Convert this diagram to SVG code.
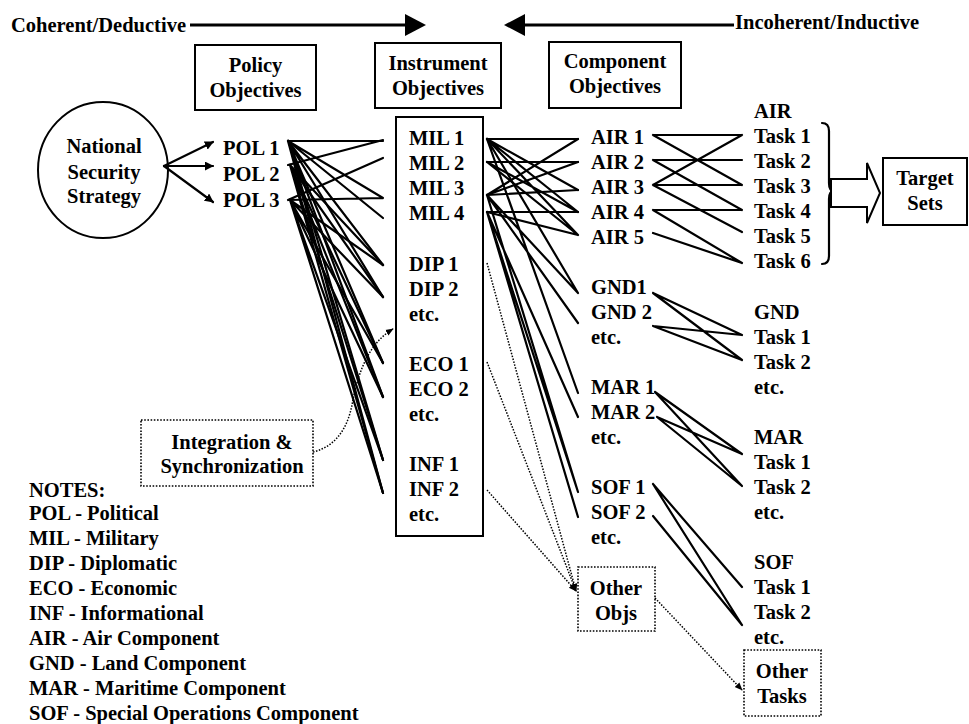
<svg xmlns="http://www.w3.org/2000/svg" width="969" height="724" viewBox="0 0 969 724">
<style>
  text { font-family: "Liberation Serif", "Times New Roman", serif; font-weight: bold; font-size: 20.5px; fill: #000; }
  .mid { text-anchor: middle; }
  .box { fill: #fff; stroke: #000; stroke-width: 2; }
  .dbox { fill: #fff; stroke: #000; stroke-width: 1.6; stroke-dasharray: 1.6 1.6; }
  .ln { stroke: #000; stroke-width: 2.2; fill: none; stroke-linecap: round; }
  .dot { stroke: #000; stroke-width: 1.5; stroke-dasharray: 1.5 1.5; fill: none; }
  .thick { stroke: #000; stroke-width: 3; fill: none; }
</style>
<defs>
  <marker id="ah" viewBox="0 0 10 10" refX="9" refY="5" markerWidth="9" markerHeight="9" markerUnits="userSpaceOnUse" orient="auto">
    <path d="M0,0 L10,5 L0,10 z" fill="#000"/>
  </marker>
  <marker id="ahd" viewBox="0 0 10 10" refX="9" refY="5" markerWidth="8" markerHeight="8" markerUnits="userSpaceOnUse" orient="auto">
    <path d="M0,1 L10,5 L0,9 z" fill="#000"/>
  </marker>
</defs>

<!-- direction banner -->
<g id="banner">
  <text x="11" y="32">Coherent/Deductive</text>
  <line class="thick" x1="190" y1="25" x2="407" y2="25"/>
  <path d="M405,14 L426,25 L405,36 z" fill="#000"/>
  <text x="735" y="29">Incoherent/Inductive</text>
  <line class="thick" x1="523" y1="25" x2="734" y2="25"/>
  <path d="M525,14 L504,25 L525,36 z" fill="#000"/>
</g>

<!-- column headers -->
<g id="hdr-policy">
  <rect class="box" x="195" y="45" width="121" height="65"/>
  <text class="mid" x="255.5" y="72">Policy</text>
  <text class="mid" x="255.5" y="97">Objectives</text>
</g>
<g id="hdr-instrument">
  <rect class="box" x="375" y="43" width="126" height="65"/>
  <text class="mid" x="438" y="70">Instrument</text>
  <text class="mid" x="438" y="95">Objectives</text>
</g>
<g id="hdr-component">
  <rect class="box" x="549" y="42" width="132" height="66"/>
  <text class="mid" x="615" y="68">Component</text>
  <text class="mid" x="615" y="93">Objectives</text>
</g>

<!-- national security strategy -->
<g id="nss">
  <ellipse cx="103" cy="170" rx="65" ry="68" fill="#fff" stroke="#000" stroke-width="2"/>
  <text class="mid" x="104" y="153">National</text>
  <text class="mid" x="104" y="179">Security</text>
  <text class="mid" x="104" y="203">Strategy</text>
</g>

<!-- policy objectives -->
<g id="pol">
  <text x="223" y="155">POL 1</text>
  <text x="223" y="181">POL 2</text>
  <text x="223" y="207">POL 3</text>
</g>

<!-- instrument objectives -->
<g id="instruments">
  <rect class="box" x="396" y="117" width="87" height="419"/>
  <text x="409" y="145">MIL 1</text>
  <text x="409" y="170">MIL 2</text>
  <text x="409" y="195">MIL 3</text>
  <text x="409" y="220">MIL 4</text>
  <text x="409" y="271">DIP 1</text>
  <text x="409" y="296">DIP 2</text>
  <text x="409" y="321">etc.</text>
  <text x="409" y="371">ECO 1</text>
  <text x="409" y="396">ECO 2</text>
  <text x="409" y="421">etc.</text>
  <text x="409" y="471">INF 1</text>
  <text x="409" y="496">INF 2</text>
  <text x="409" y="521">etc.</text>
</g>

<!-- component objectives -->
<g id="components">
  <text x="591" y="144">AIR 1</text>
  <text x="591" y="169">AIR 2</text>
  <text x="591" y="194">AIR 3</text>
  <text x="591" y="219">AIR 4</text>
  <text x="591" y="244">AIR 5</text>
  <text x="591" y="294">GND1</text>
  <text x="591" y="319">GND 2</text>
  <text x="591" y="344">etc.</text>
  <text x="591" y="394">MAR 1</text>
  <text x="591" y="419">MAR 2</text>
  <text x="591" y="444">etc.</text>
  <text x="591" y="494">SOF 1</text>
  <text x="591" y="519">SOF 2</text>
  <text x="591" y="544">etc.</text>
</g>

<!-- component tasks -->
<g id="air-tasks">
  <text x="754" y="118">AIR</text>
  <text x="754" y="143">Task 1</text>
  <text x="754" y="168">Task 2</text>
  <text x="754" y="193">Task 3</text>
  <text x="754" y="218">Task 4</text>
  <text x="754" y="243">Task 5</text>
  <text x="754" y="268">Task 6</text>
</g>
<g id="gnd-tasks">
  <text x="754" y="319">GND</text>
  <text x="754" y="344">Task 1</text>
  <text x="754" y="369">Task 2</text>
  <text x="754" y="394">etc.</text>
</g>
<g id="mar-tasks">
  <text x="754" y="444">MAR</text>
  <text x="754" y="469">Task 1</text>
  <text x="754" y="494">Task 2</text>
  <text x="754" y="519">etc.</text>
</g>
<g id="sof-tasks">
  <text x="754" y="569">SOF</text>
  <text x="754" y="594">Task 1</text>
  <text x="754" y="619">Task 2</text>
  <text x="754" y="644">etc.</text>
</g>

<!-- target sets -->
<g id="targets">
  <rect class="box" x="883" y="158" width="84" height="67"/>
  <text class="mid" x="925" y="185">Target</text>
  <text class="mid" x="925" y="210">Sets</text>
</g>

<!-- dotted boxes -->
<g id="integration">
  <rect class="dbox" x="141" y="420" width="172" height="66"/>
  <text class="mid" x="232" y="449">Integration &amp;</text>
  <text class="mid" x="232" y="473">Synchronization</text>
</g>
<g id="other-objs">
  <rect class="dbox" x="578" y="567" width="77" height="64"/>
  <text class="mid" x="616" y="595">Other</text>
  <text class="mid" x="616" y="620">Objs</text>
</g>
<g id="other-tasks">
  <rect class="dbox" x="744" y="650" width="77" height="66"/>
  <text class="mid" x="782" y="678">Other</text>
  <text class="mid" x="782" y="703">Tasks</text>
</g>

<!-- legend -->
<g id="notes">
  <text x="29" y="497">NOTES:</text>
  <text x="29" y="520">POL - Political</text>
  <text x="29" y="545">MIL - Military</text>
  <text x="29" y="570">DIP - Diplomatic</text>
  <text x="29" y="595">ECO - Economic</text>
  <text x="29" y="620">INF - Informational</text>
  <text x="29" y="645">AIR - Air Component</text>
  <text x="29" y="670">GND - Land Component</text>
  <text x="29" y="695">MAR - Maritime Component</text>
  <text x="29" y="720">SOF - Special Operations Component</text>
</g>

<g id="connectors">
  <!-- strategy to policy -->
  <line class="ln" x1="164" y1="166" x2="213" y2="142" marker-end="url(#ah)"/>
  <line class="ln" x1="164" y1="166" x2="213" y2="166" marker-end="url(#ah)"/>
  <line class="ln" x1="164" y1="166" x2="213" y2="202" marker-end="url(#ah)"/>

  <!-- policy to instruments -->
  <path class="ln" d="M288,141 L383,141 M288,141 L383,198 M288,141 L383,218 M288,165 L383,140 M288,200 L383,158 M288,200 L383,198"/>
  <path class="ln" d="M288,141 L383,265 M288,141 L383,297 M288,141 L383,363 M288,141 L383,397 M288,141 L383,460 M288,141 L383,493"/>
  <path class="ln" d="M290,165 L383,265 M290,165 L383,297 M290,165 L383,363 M290,165 L383,397 M290,165 L383,460 M290,165 L383,493"/>
  <path class="ln" d="M290,200 L383,265 M290,200 L383,297 M290,200 L383,363 M290,200 L383,397 M290,200 L383,460 M290,200 L383,493"/>

  <!-- instruments to components -->
  <path class="ln" d="M487,139 L578,139 M487,162 L578,162 M487,195 L578,190 M487,212 L578,212"/>
  <path class="ln" d="M487,139 L578,190 M487,139 L578,212 M487,139 L578,235 M487,162 L578,212 M487,162 L578,235 M487,195 L578,139 M487,195 L578,162 M487,212 L578,235"/>
  <path class="ln" d="M487,139 L578,293 M487,195 L578,293 M487,195 L578,323 M487,139 L578,393 M487,212 L578,417 M487,195 L578,492 M487,212 L578,492 M487,212 L578,517"/>

  <!-- components to tasks -->
  <path class="ln" d="M653,135 L742,135 M653,135 L742,185 M653,160 L742,160 M653,160 L742,210 M653,185 L742,135 M653,185 L742,185 M653,185 L742,232 M653,210 L742,210 M653,210 L742,263 M653,233 L742,263"/>
  <path class="ln" d="M653,293 L742,335 M653,293 L742,360 M653,326 L742,335 M653,326 L742,360"/>
  <path class="ln" d="M655,392 L742,454 M655,392 L742,486 M657,417 L742,454 M657,417 L742,486"/>
  <path class="ln" d="M653,484 L742,587 M653,484 L742,625 M653,516 L742,625"/>

  <!-- task brace and block arrow to target sets -->
  <path class="ln" d="M822,123 Q829,123 829,131 L829,183 Q829,191 834,191 Q829,191 829,199 L829,256 Q829,264 822,264"/>
  <path d="M831,179 L867,179 L867,163 L880,193 L867,223 L867,207 L831,207 z" fill="#fff" stroke="#000" stroke-width="2"/>

  <!-- dotted coordination links -->
  <path class="dot" d="M313,452 C338,446 348,425 352,405 C357,378 366,345 393,329" marker-end="url(#ahd)"/>
  <path class="dot" d="M487,263 L576,591" marker-end="url(#ahd)"/>
  <path class="dot" d="M487,362 L576,591" marker-end="url(#ahd)"/>
  <path class="dot" d="M487,490 L576,591" marker-end="url(#ahd)"/>
  <path class="dot" d="M655,598 L742,690" marker-end="url(#ahd)"/>
</g>
</svg>
